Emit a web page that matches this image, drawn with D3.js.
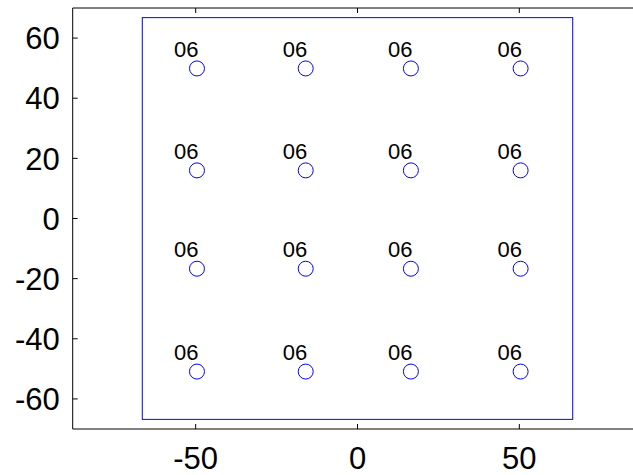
<!DOCTYPE html>
<html>
<head>
<meta charset="utf-8">
<script src="https://cdn.jsdelivr.net/npm/d3@7"></script>
<style>
  html, body { margin: 0; padding: 0; background: #fff; }
  svg { display: block; font-family: "Liberation Sans", Arial, Helvetica, sans-serif; }
</style>
</head>
<body>
<svg id="chart" width="633" height="475"></svg>
<script>
// Grid of sample sites: column x positions, row y positions
const colX = [-49.6, -16.0, 16.5, 50.4];
const rowY = [49.9, 16.0, -16.7, -50.9];
const siteLabel = "06";

// Bounding region drawn round the sites
const regionX = [-66.5, 66.5];
const regionY = [-66.8, 66.8];

// Axis limits and ticks
const xDomain = [-88, 88];
const yDomain = [-70, 70];
const xTicks = [-50, 0, 50];
const yTicks = [-60, -40, -20, 0, 20, 40, 60];

const points = [];
rowY.forEach(y => colX.forEach(x => points.push({ x, y, label: siteLabel })));

const svg = d3.select("#chart");
const x = d3.scaleLinear().domain(xDomain).range([72.7, 642.3]);
const y = d3.scaleLinear().domain(yDomain).range([429, 8]);

const tickLen = 5;
const fontSize = 31;

// Axis box lines
const axisG = svg.append("g").attr("stroke", "#000").attr("stroke-width", 1).attr("fill", "none");
axisG.append("line").attr("x1", x(xDomain[0])).attr("x2", x(xDomain[1]))
  .attr("y1", y(yDomain[0])).attr("y2", y(yDomain[0]));
axisG.append("line").attr("x1", x(xDomain[0])).attr("x2", x(xDomain[1]))
  .attr("y1", y(yDomain[1])).attr("y2", y(yDomain[1]));
axisG.append("line").attr("x1", x(xDomain[0])).attr("x2", x(xDomain[0]))
  .attr("y1", y(yDomain[0])).attr("y2", y(yDomain[1]));
axisG.append("line").attr("x1", x(xDomain[1])).attr("x2", x(xDomain[1]))
  .attr("y1", y(yDomain[0])).attr("y2", y(yDomain[1]));

// Inward ticks on bottom/top and left/right
xTicks.forEach(t => {
  axisG.append("line").attr("x1", x(t)).attr("x2", x(t))
    .attr("y1", y(yDomain[0])).attr("y2", y(yDomain[0]) - tickLen);
  axisG.append("line").attr("x1", x(t)).attr("x2", x(t))
    .attr("y1", y(yDomain[1])).attr("y2", y(yDomain[1]) + tickLen);
});
yTicks.forEach(t => {
  axisG.append("line").attr("x1", x(xDomain[0])).attr("x2", x(xDomain[0]) + tickLen)
    .attr("y1", y(t)).attr("y2", y(t));
  axisG.append("line").attr("x1", x(xDomain[1])).attr("x2", x(xDomain[1]) - tickLen)
    .attr("y1", y(t)).attr("y2", y(t));
});

// Tick labels
svg.append("g").selectAll("text").data(xTicks).join("text")
  .attr("x", d => x(d)).attr("y", y(yDomain[0]) + 40)
  .attr("text-anchor", "middle").attr("font-size", fontSize).attr("fill", "#000")
  .text(d => d);
svg.append("g").selectAll("text").data(yTicks).join("text")
  .attr("x", x(xDomain[0]) - 13).attr("y", d => y(d))
  .attr("dy", "0.36em")
  .attr("text-anchor", "end").attr("font-size", fontSize).attr("fill", "#000")
  .text(d => d);

// Region rectangle
svg.append("rect")
  .attr("x", x(regionX[0])).attr("y", y(regionY[1]))
  .attr("width", x(regionX[1]) - x(regionX[0]))
  .attr("height", y(regionY[0]) - y(regionY[1]))
  .attr("fill", "none").attr("stroke", "#0000ff").attr("stroke-width", 1);

// Site markers
svg.append("g").selectAll("circle").data(points).join("circle")
  .attr("cx", d => x(d.x)).attr("cy", d => y(d.y)).attr("r", 7.5)
  .attr("fill", "none").attr("stroke", "#0000ff").attr("stroke-width", 1);

// Site labels
svg.append("g").selectAll("text").data(points).join("text")
  .attr("x", d => x(d.x) - 23).attr("y", d => y(d.y) - 11.5)
  .attr("font-size", 22).attr("fill", "#000")
  .text(d => d.label);
</script>
</body>
</html>
